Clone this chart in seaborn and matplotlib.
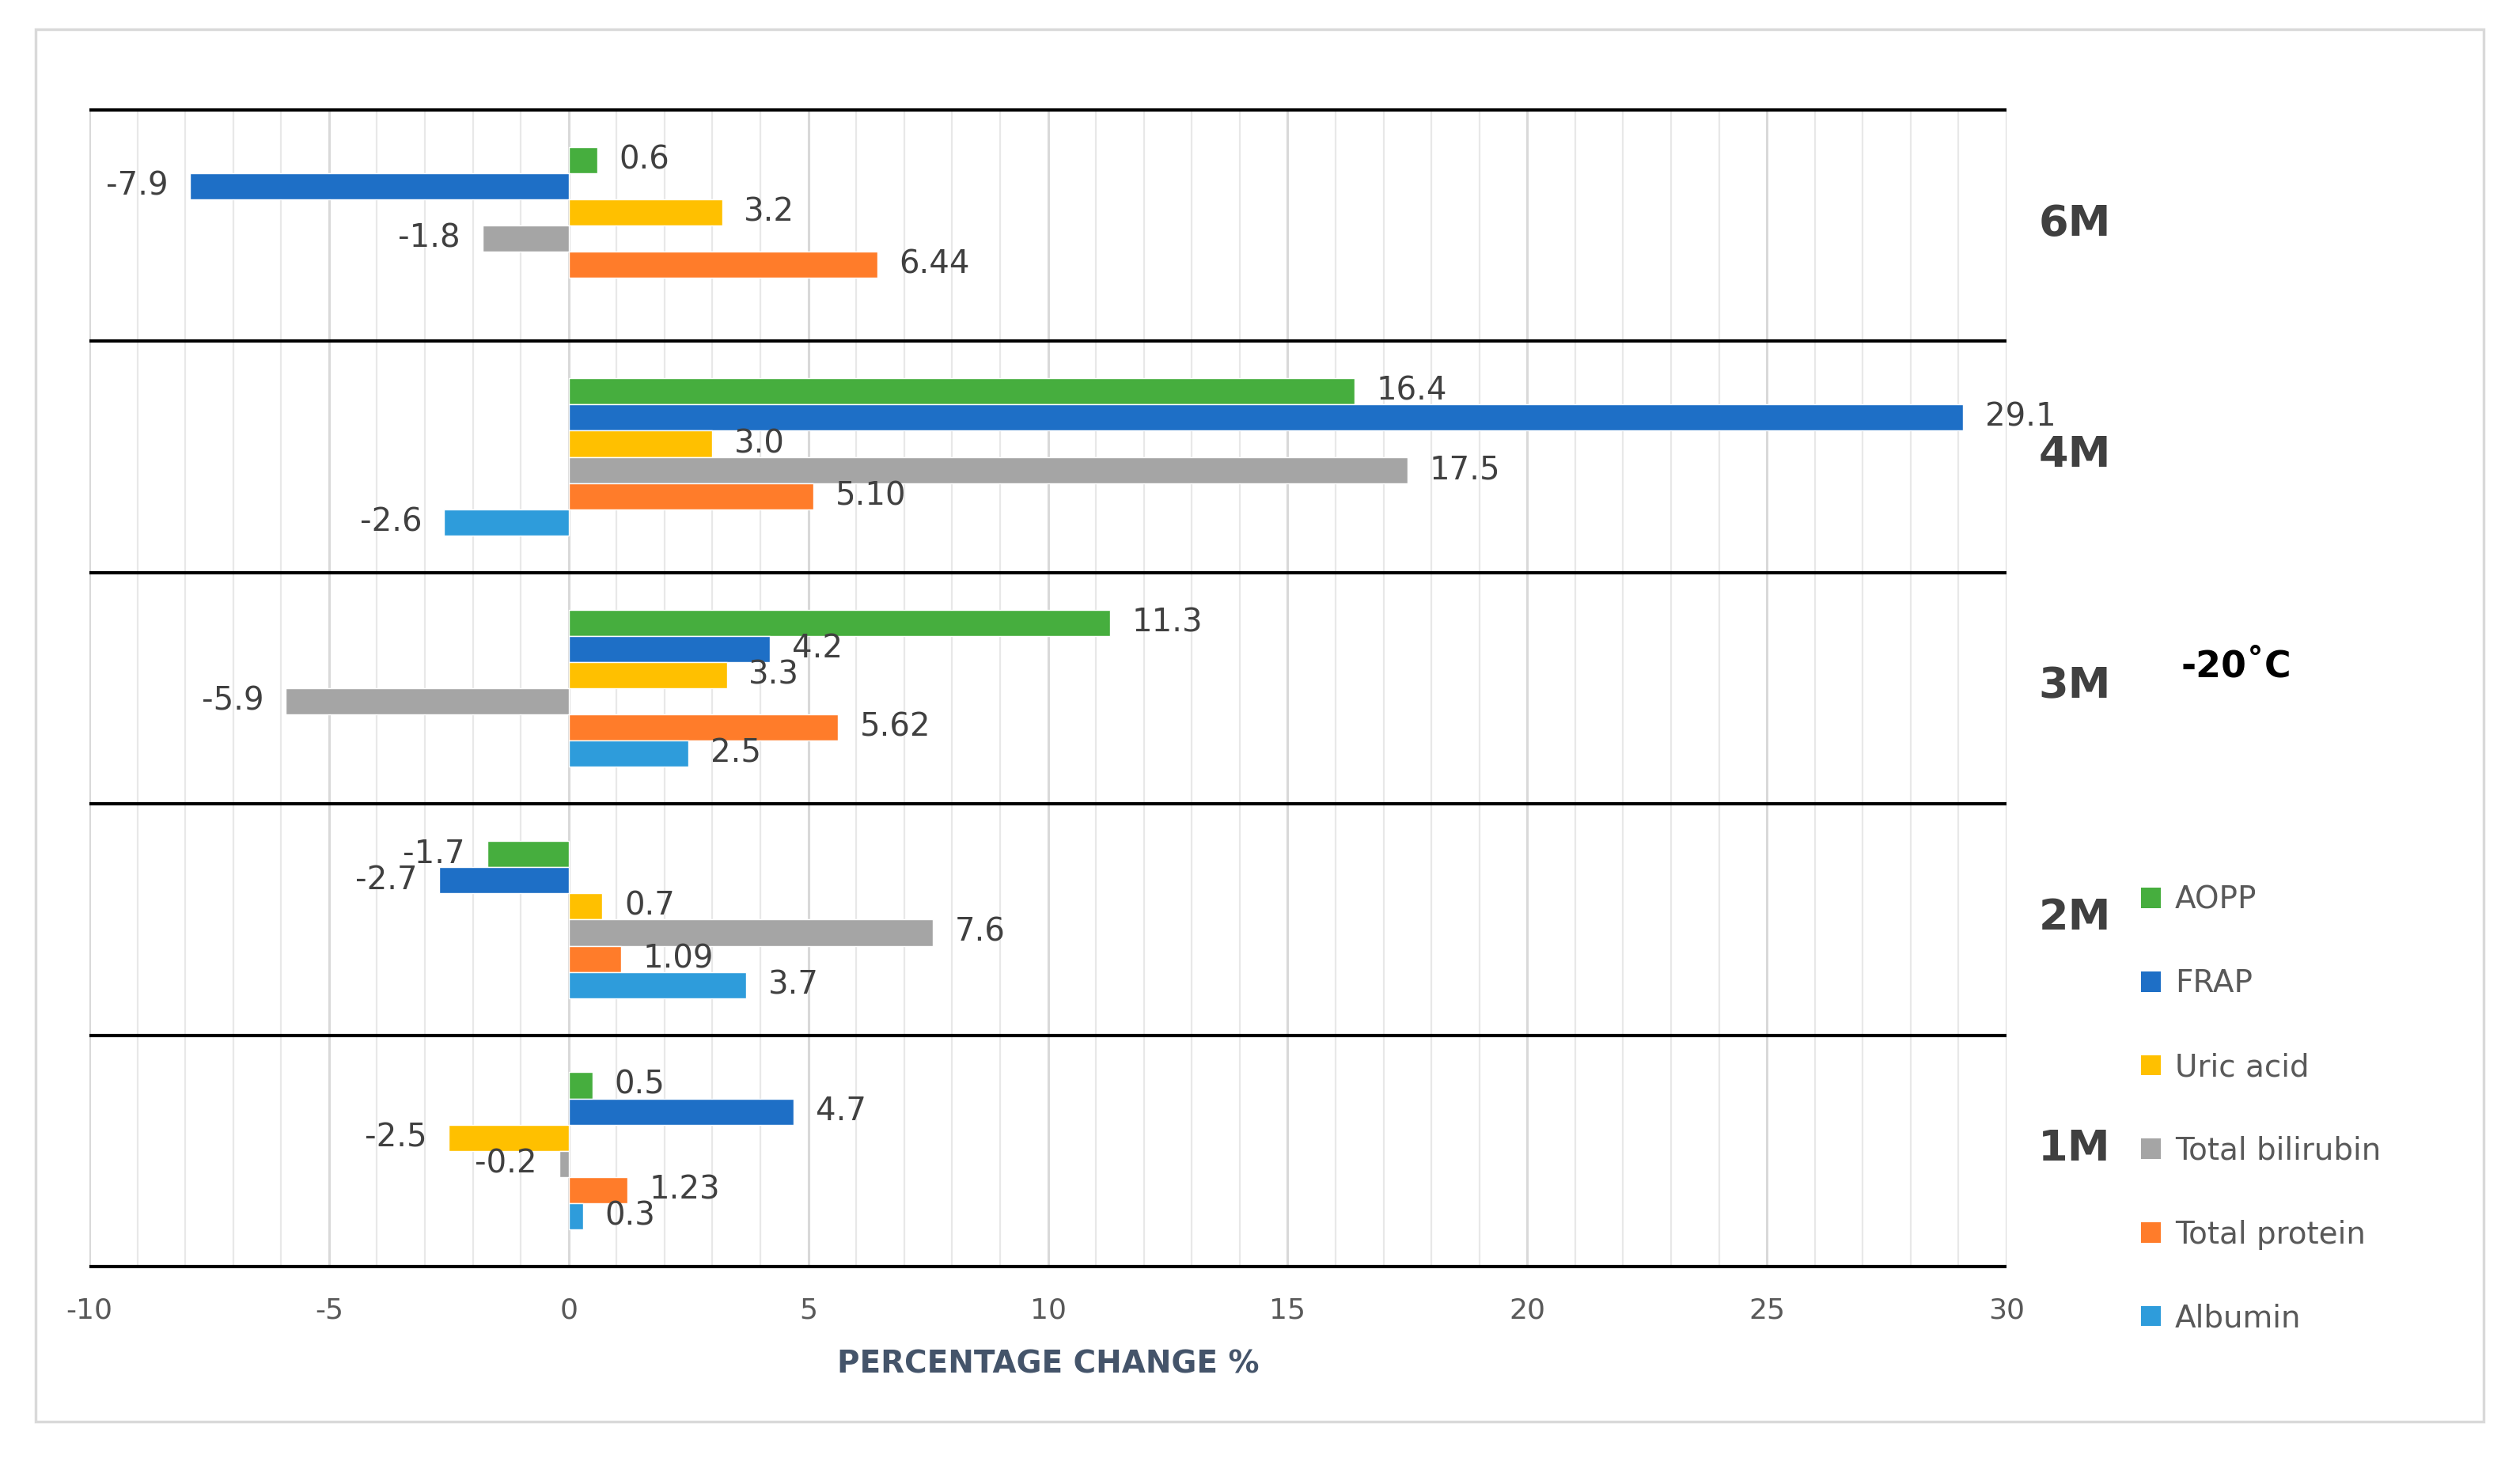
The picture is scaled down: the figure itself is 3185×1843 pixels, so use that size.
import numpy as np
import pandas as pd
import seaborn as sns
import matplotlib.pyplot as plt
import matplotlib.transforms as mtransforms
from matplotlib.patches import Patch, Rectangle

# Data (percentage change vs baseline, -20 C storage)
months = ["6M", "4M", "3M", "2M", "1M"]
params = ["AOPP", "FRAP", "Uric acid", "Total bilirubin", "Total protein", "Albumin"]
aopp = [0.6, 16.4, 11.3, -1.7, 0.5]
frap = [-7.9, 29.1, 4.2, -2.7, 4.7]
uric_acid = [3.2, 3.0, 3.3, 0.7, -2.5]
total_bilirubin = [-1.8, 17.5, -5.9, 7.6, -0.2]
total_protein = [6.44, 5.10, 5.62, 1.09, 1.23]
albumin = [np.nan, -2.6, 2.5, 3.7, 0.3]
label_fmt = ["{:.1f}", "{:.1f}", "{:.1f}", "{:.1f}", "{:.2f}", "{:.1f}"]
colors = ["#46AE3E", "#1E6FC6", "#FFC000", "#A5A5A5", "#FF7C2A", "#2E9CDB"]

series = [aopp, frap, uric_acid, total_bilirubin, total_protein, albumin]
rows = []
for name, vals in zip(params, series):
    for m, v in zip(months, vals):
        rows.append({"Month": m, "Parameter": name, "Change": v})
df = pd.DataFrame(rows).dropna()

sns.set_style("white")
plt.rcParams['font.family'] = ['DejaVu Sans']
plt.rcParams['axes.unicode_minus'] = False

W, H = 3185, 1843
fig, ax = plt.subplots(figsize=(W / 100, H / 100), dpi=100)
fig.subplots_adjust(left=113 / W, right=2536 / W, top=1 - 139 / H, bottom=1 - 1601 / H)

sns.barplot(data=df, y="Month", x="Change", hue="Parameter", order=months,
            hue_order=params, palette=colors, width=0.68, orient="h",
            saturation=1, legend=False, ax=ax, zorder=3)

# data labels
for cont, fmt in zip(ax.containers, label_fmt):
    labels = [fmt.format(v) for v in cont.datavalues]
    ax.bar_label(cont, labels=labels, padding=20, fontsize=29, color="#404040")

# axes styling
ax.set_xlim(-10, 30)
ax.set_ylim(len(months) - 0.5, -0.5)
ax.set_xticks(np.arange(-10, 31, 5))
ax.set_xticks(np.arange(-10, 31, 1), minor=True)
ax.grid(which="major", axis="x", color="#D9D9D9", lw=2.2, zorder=0)
ax.grid(which="minor", axis="x", color="#E8E8E8", lw=1.6, zorder=0)
ax.set_axisbelow(True)
for s in ax.spines.values():
    s.set_visible(False)
ax.hlines(np.arange(len(months) + 1) - 0.5, -10, 30, color="black", lw=3,
          zorder=4, clip_on=False)

ax.tick_params(axis="x", which="both", length=0, pad=28, labelsize=26, labelcolor="#595959")
ax.yaxis.tick_right()
ax.tick_params(axis="y", length=0, pad=29)
# month labels sit a little above the group centre in the original
lift = mtransforms.ScaledTranslation(0, 0.08, fig.dpi_scale_trans)
for t in ax.get_yticklabels():
    t.set_fontsize(39)
    t.set_fontweight("bold")
    t.set_color("#404040")
    t.set_transform(t.get_transform() + lift)

ax.set_ylabel("")
ax.set_xlabel("PERCENTAGE CHANGE %", fontsize=28, fontweight="bold",
              color="#44546A", labelpad=23)

fig.text(2826 / W, 1 - 843 / H, "-20˚C", ha="center", va="center",
         fontsize=33, fontweight="bold", color="black")

handles = [Patch(facecolor=c, edgecolor="none") for c in colors]
fig.legend(handles, params, loc="center left", bbox_to_anchor=(2706 / W, 1 - 1402 / H),
           frameon=False, fontsize=28, labelspacing=1.74, handlelength=0.65,
           handleheight=0.65, handletextpad=0.45, borderpad=0, borderaxespad=0,
           labelcolor="#595959")

fig.add_artist(Rectangle((45 / W, 1 - 1797 / H), (3139 - 45) / W, (1797 - 37) / H,
                         transform=fig.transFigure, fill=False,
                         edgecolor="#D9D9D9", lw=2.5))

fig.savefig("out.png", dpi=100)
